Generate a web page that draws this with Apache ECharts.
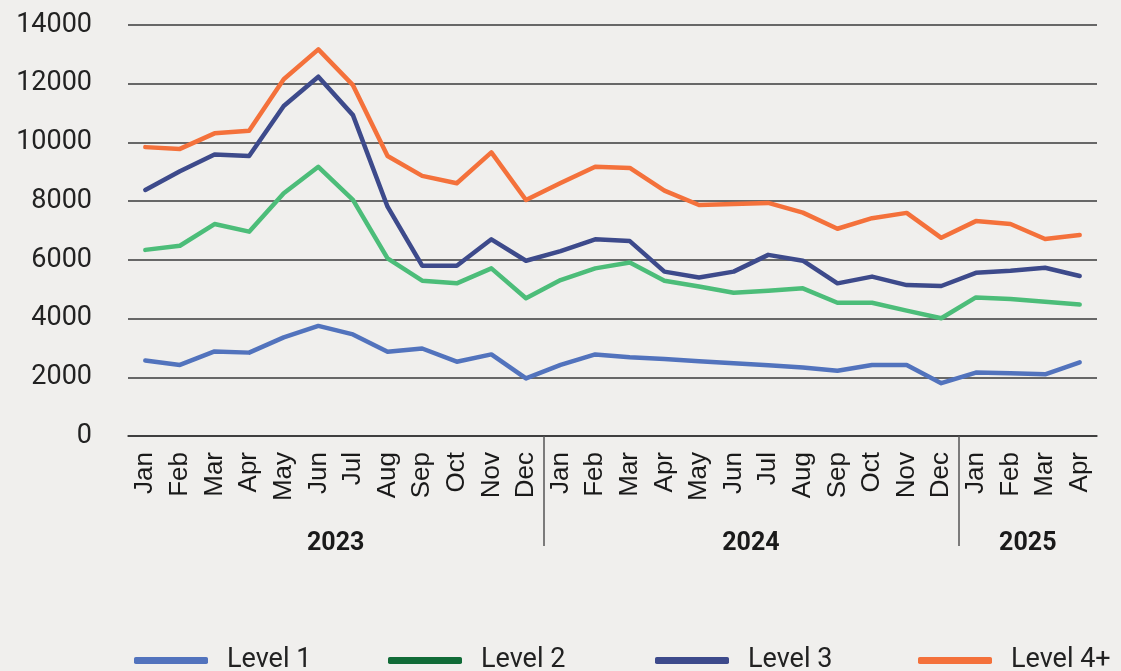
<!DOCTYPE html>
<html>
<head>
<meta charset="utf-8">
<script src="https://cdn.jsdelivr.net/npm/echarts@6/dist/echarts.min.js"></script>
<style>
  html, body { margin: 0; padding: 0; background: #f0efed; }
  #chart { width: 1121px; height: 671px; }
</style>
</head>
<body>
<div id="chart"></div>
<script>
const monthLabels = [
    'Jan', 'Feb', 'Mar', 'Apr', 'May', 'Jun', 'Jul', 'Aug', 'Sep', 'Oct', 'Nov', 'Dec',
    'Jan', 'Feb', 'Mar', 'Apr', 'May', 'Jun', 'Jul', 'Aug', 'Sep', 'Oct', 'Nov', 'Dec',
    'Jan', 'Feb', 'Mar', 'Apr'
];
const years = ['2023', '2024', '2025'];
const yearStart = [0, 12, 24];
const yearEnd = [12, 24, 28];

const level1 = [2570, 2420, 2880, 2840, 3360, 3750, 3460, 2870, 2980, 2530, 2780, 1960,
    2420, 2780, 2680, 2620, 2550, 2480, 2410, 2330, 2220, 2420, 2420, 1800,
    2160, 2140, 2100, 2510];
const level2 = [6340, 6480, 7220, 6960, 8270, 9170, 8040, 6050, 5290, 5200, 5710, 4690,
    5310, 5710, 5910, 5290, 5090, 4880, 4950, 5030, 4540, 4540, 4270, 4010,
    4720, 4670, 4570, 4480];
const level3 = [8380, 9020, 9590, 9540, 11240, 12240, 10930, 7810, 5800, 5800, 6700, 5970,
    6300, 6700, 6640, 5600, 5400, 5600, 6170, 5970, 5200, 5430, 5140, 5110,
    5560, 5630, 5730, 5450];
const level4 = [9840, 9780, 10310, 10400, 12150, 13170, 11950, 9540, 8860, 8610, 9660, 8040,
    8620, 9170, 9130, 8360, 7870, 7900, 7940, 7610, 7060, 7420, 7600, 6750,
    7320, 7220, 6710, 6850];

const seriesNames = ['Level 1', 'Level 2', 'Level 3', 'Level 4+'];
const lineColors = ['#5273bd', '#4cbd79', '#3d4a8b', '#f4713b'];
const legendColors = ['#5273bd', '#116b37', '#3d4a8b', '#f4713b'];
const legendLeft = [134, 388, 655, 918];

const yearMid = yearStart.map((s, i) => (s + yearEnd[i]) / 2);

const chart = echarts.init(document.getElementById('chart'));

chart.setOption({
    backgroundColor: '#f0efed',
    animation: false,
    grid: { left: 128, right: 24, top: 25, bottom: 235 },
    legend: seriesNames.map((name, i) => ({
        data: [{
            name: name,
            itemStyle: { color: legendColors[i] },
            lineStyle: { color: legendColors[i] }
        }],
        left: legendLeft[i],
        top: 647,
        padding: 0,
        icon: 'roundRect',
        itemWidth: 74,
        itemHeight: 7,
        textStyle: {
            fontFamily: 'Roboto',
            fontSize: 27,
            color: '#222',
            padding: [0, 0, 0, 14]
        }
    })),
    xAxis: [{
        type: 'category',
        data: monthLabels,
        boundaryGap: true,
        axisLine: { lineStyle: { color: '#333', width: 1.5 } },
        axisTick: { show: false },
        axisLabel: {
            rotate: 90,
            interval: 0,
            margin: 16,
            fontFamily: 'Liberation Sans',
            fontSize: 26,
            color: '#1a1a1a'
        }
    }, {
        type: 'value',
        min: 0,
        max: monthLabels.length,
        position: 'bottom',
        axisLine: { show: false },
        splitLine: { show: false },
        axisTick: {
            show: true,
            customValues: yearStart.slice(1),
            length: 110,
            lineStyle: { color: '#555', width: 1.5 }
        },
        axisLabel: {
            customValues: yearMid,
            margin: 95,
            fontFamily: 'Roboto',
            fontWeight: 'bold',
            fontSize: 25,
            color: '#1a1a1a',
            formatter: v => years[yearMid.indexOf(v)] || ''
        }
    }],
    yAxis: {
        type: 'value',
        min: 0,
        max: 14000,
        interval: 2000,
        axisLine: { show: false },
        axisTick: { show: false },
        splitLine: { lineStyle: { color: '#3a3a3a', width: 1.5 } },
        axisLabel: {
            margin: 36,
            fontFamily: 'Roboto',
            fontSize: 27,
            color: '#222',
            formatter: v => String(v)
        }
    },
    series: [level1, level2, level3, level4].map((data, i) => ({
        name: seriesNames[i],
        type: 'line',
        data: data,
        showSymbol: false,
        symbol: 'none',
        lineStyle: { color: lineColors[i], width: 4.5, cap: 'round', join: 'round' },
        itemStyle: { color: lineColors[i] }
    }))
});
</script>
</body>
</html>
